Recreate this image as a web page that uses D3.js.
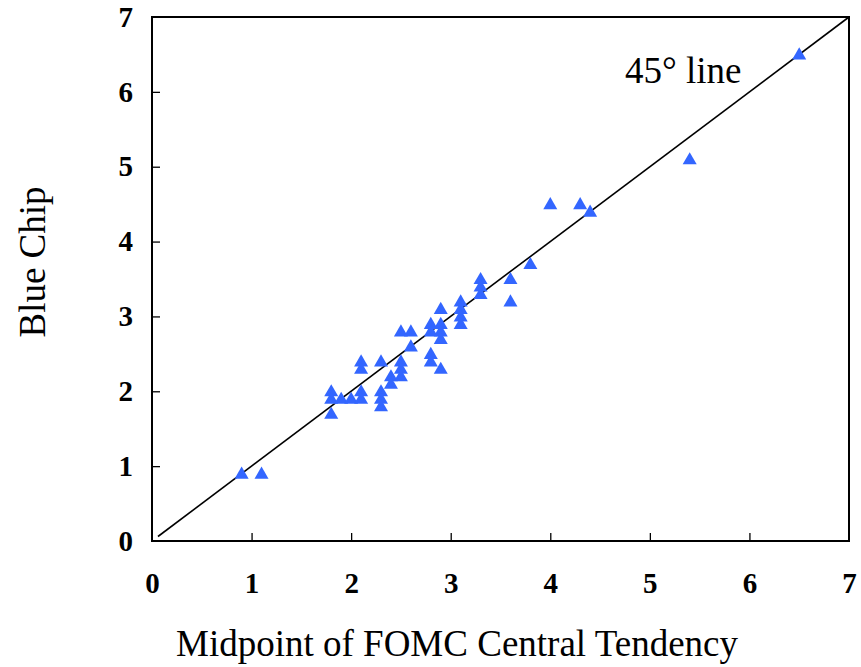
<!DOCTYPE html>
<html><head><meta charset="utf-8">
<script src="https://cdn.jsdelivr.net/npm/d3@7"></script>
<style>body{margin:0;background:#fff}svg{display:block}</style>
</head><body>
<svg id="c" width="861" height="667"></svg>
<script>
const fomc = [0.9,1.1,1.8,1.8,1.8,1.9,2.0,2.1,2.1,2.1,2.1,2.3,2.3,2.3,2.3,2.4,2.4,2.5,2.5,2.5,2.5,2.6,2.6,2.8,2.8,2.8,2.8,2.9,2.9,2.9,2.9,2.9,3.1,3.1,3.1,3.1,3.3,3.3,3.3,3.6,3.6,3.8,4.0,4.3,4.4,5.4,6.5];
const blueChip = [0.9,0.9,2.0,1.9,1.7,1.9,1.9,2.4,2.3,2.0,1.9,2.4,2.0,1.9,1.8,2.2,2.1,2.4,2.3,2.2,2.8,2.8,2.6,2.9,2.8,2.5,2.4,3.1,2.9,2.8,2.7,2.3,3.2,3.1,3.0,2.9,3.5,3.4,3.3,3.5,3.2,3.7,4.5,4.5,4.4,5.1,6.5];
const tickValues = [0,1,2,3,4,5,6,7];
const lineEnds = [0.06, 7];

const svg = d3.select("#c");
const L=152, R=849, T=17, B=541;
const x = d3.scaleLinear().domain([0,7]).range([L,R]);
const y = d3.scaleLinear().domain([0,7]).range([B,T]);
const serif = "'Liberation Serif','Times New Roman',serif";

const gx = svg.append("g").attr("transform",`translate(0,${B})`)
  .call(d3.axisBottom(x).tickValues(tickValues).tickSize(-8).tickPadding(31).tickFormat(d3.format("d")));
const gy = svg.append("g").attr("transform",`translate(${L},0)`)
  .call(d3.axisLeft(y).tickValues(tickValues).tickSize(-8).tickPadding(19).tickFormat(d3.format("d")));
[gx,gy].forEach(g=>{
  g.select(".domain").remove();
  g.selectAll(".tick line").attr("stroke","#000").attr("stroke-width",1.3);
  g.selectAll(".tick text").attr("font-family",serif).attr("font-weight","bold").attr("font-size",29).attr("fill","#000");
});
gx.selectAll(".tick").filter(d=>d===0||d===7).select("line").remove();
gy.selectAll(".tick").filter(d=>d===0||d===7).select("line").remove();

svg.append("rect").attr("x",L).attr("y",T).attr("width",R-L).attr("height",B-T)
  .attr("fill","none").attr("stroke","#000").attr("stroke-width",2);

svg.append("line").attr("x1",x(lineEnds[0])).attr("y1",y(lineEnds[0]))
  .attr("x2",x(lineEnds[1])).attr("y2",y(lineEnds[1]))
  .attr("stroke","#000").attr("stroke-width",1.6);

const tri = d3.symbol().type(d3.symbolTriangle).size(85);
svg.append("g").selectAll("path").data(fomc.map((v,i)=>[v,blueChip[i]])).join("path")
  .attr("d",tri).attr("transform",d=>`translate(${x(d[0])},${y(d[1])+1})`)
  .attr("fill","#3366ff");

svg.append("text").attr("x",625).attr("y",83).attr("font-family",serif).attr("font-size",37)
  .text("45° line");

svg.append("text").attr("x",457).attr("y",656).attr("text-anchor","middle")
  .attr("font-family",serif).attr("font-size",37).text("Midpoint of FOMC Central Tendency");
svg.append("text").attr("transform","translate(45,262) rotate(-90)").attr("text-anchor","middle")
  .attr("font-family",serif).attr("font-size",37).text("Blue Chip");
</script>
</body></html>
